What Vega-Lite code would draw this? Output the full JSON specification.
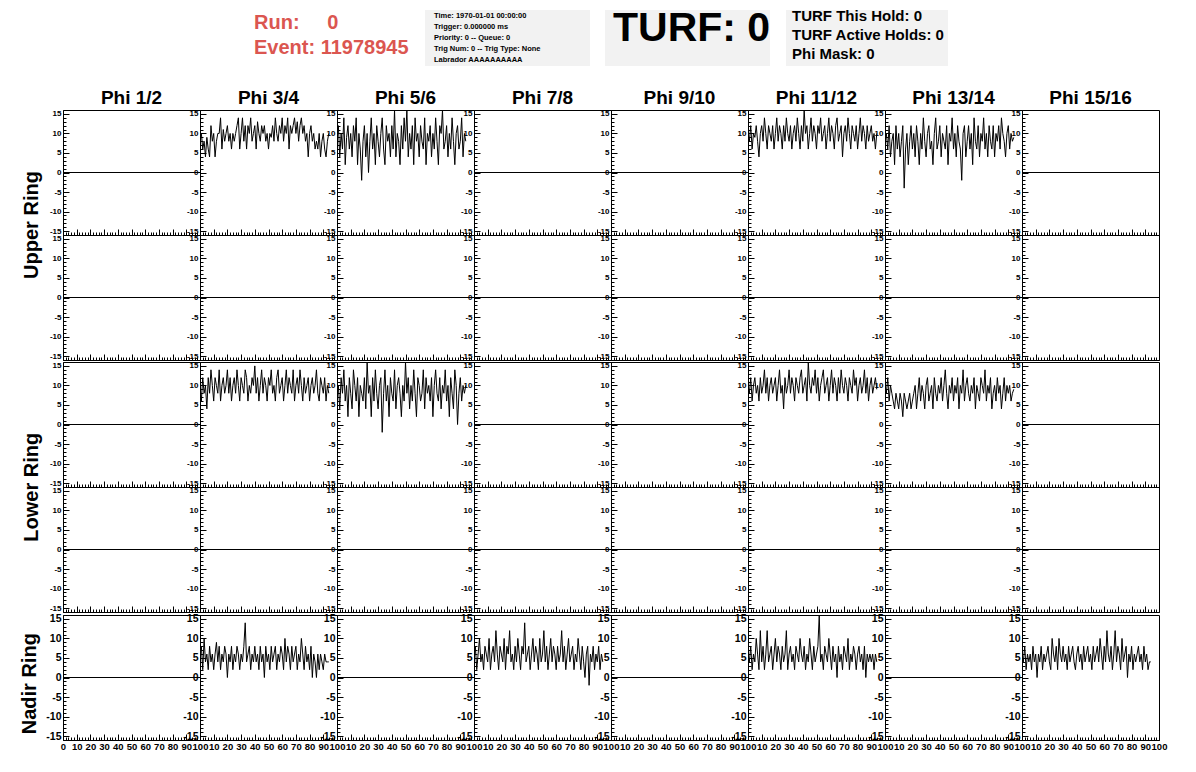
{
  "$schema": "https://vega.github.io/schema/vega-lite/v6.json",
  "padding": {"left": 20, "top": 8, "right": 0, "bottom": 0},
  "background": "white",
  "config": {
    "view": {"stroke": "black", "strokeWidth": 1},
    "font": "Liberation Sans",
    "axis": {"domainColor": "black", "tickColor": "black", "labelColor": "black", "grid": false, "domainWidth": 1, "tickWidth": 1}
  },
  "datasets": {
    "tr": [
      {"g": "U", "r": 1, "phi": "Phi 1/2", "x": [0, 100], "y": [0, 0]},
      {"g": "U", "r": 1, "phi": "Phi 3/4", "x": [0,1,2,3,4,5,6,7,8,9,10,11,12,13,14,15,16,17,18,19,20,21,22,23,24,25,26,27,28,29,30,31,32,33,34,35,36,37,38,39,40,41,42,43,44,45,46,47,48,49,50,51,52,53,54,55,56,57,58,59,60,61,62,63,64,65,66,67,68,69,70,71,72,73,74,75,76,77,78,79,80,81,82,83,84,85,86,87,88,89,90,91,92,93,94],
        "y": [10,10,6,8,4,9,6,4,12,8, 10,4,8,10,10,14,6,11,8,10, 12,8,10,6,10,8,10,12,14,6, 10,14,8,12,6,12,10,14,8,10, 12,6,13,10,8,12,10,12,8,10, 6,10,9,12,8,14,10,8,12,10, 14,8,12,10,14,6,12,10,12,14, 10,13,8,12,14,10,12,8,10,4, 10,12,8,10,6,8,6,10,4,8, 10,6,4,8,10]},
      {"g": "U", "r": 1, "phi": "Phi 5/6", "x": [0,1,2,3,4,5,6,7,8,9,10,11,12,13,14,15,16,17,18,19,20,21,22,23,24,25,26,27,28,29,30,31,32,33,34,35,36,37,38,39,40,41,42,43,44,45,46,47,48,49,50,51,52,53,54,55,56,57,58,59,60,61,62,63,64,65,66,67,68,69,70,71,72,73,74,75,76,77,78,79,80,81,82,83,84,85,86,87,88,89,90,91,92,93,94],
        "y": [8,12,4,10,6,14,2,9,12,6, 10,4,12,8,14,2,10,6,-2,8, 12,4,10,0,8,14,6,10,2,12, 8,4,10,14,6,2,12,8,10,4, 12,6,16,4,10,8,2,12,6,14, 8,16,4,10,6,12,2,14,8,10, 4,12,8,6,14,2,10,8,12,4, 10,6,14,8,2,12,10,16,6,8, 12,4,10,6,14,8,2,10,12,6, 8,14,4,10,8]},
      {"g": "U", "r": 1, "phi": "Phi 7/8", "x": [0, 100], "y": [0, 0]},
      {"g": "U", "r": 1, "phi": "Phi 9/10", "x": [0, 100], "y": [0, 0]},
      {"g": "U", "r": 1, "phi": "Phi 11/12", "x": [0,1,2,3,4,5,6,7,8,9,10,11,12,13,14,15,16,17,18,19,20,21,22,23,24,25,26,27,28,29,30,31,32,33,34,35,36,37,38,39,40,41,42,43,44,45,46,47,48,49,50,51,52,53,54,55,56,57,58,59,60,61,62,63,64,65,66,67,68,69,70,71,72,73,74,75,76,77,78,79,80,81,82,83,84,85,86,87,88,89,90,91,92,93,94],
        "y": [10,8,12,6,10,9,12,8,4,10, 12,8,14,10,6,12,10,8,12,6, 10,14,8,12,10,6,12,8,14,10, 8,12,6,10,12,8,14,10,6,12, 8,16,10,12,6,10,14,8,12,10, 6,12,10,14,8,10,12,6,10,14, 8,12,10,6,12,14,8,10,12,4, 10,12,8,14,10,6,12,10,8,12, 6,10,14,8,12,10,6,12,8,10, 12,8,10,6,10]},
      {"g": "U", "r": 1, "phi": "Phi 13/14", "x": [0,1,2,3,4,5,6,7,8,9,10,11,12,13,14,15,16,17,18,19,20,21,22,23,24,25,26,27,28,29,30,31,32,33,34,35,36,37,38,39,40,41,42,43,44,45,46,47,48,49,50,51,52,53,54,55,56,57,58,59,60,61,62,63,64,65,66,67,68,69,70,71,72,73,74,75,76,77,78,79,80,81,82,83,84,85,86,87,88,89,90,91,92,93,94],
        "y": [8,10,6,12,4,8,10,2,12,6, 10,4,8,12,-4,6,10,2,8,12, 6,10,4,12,8,2,10,6,14,8, 4,10,12,6,8,2,10,14,6,8, 12,4,10,8,6,12,2,10,8,14, 6,10,4,12,8,6,-2,10,12,4, 8,12,6,10,2,14,8,6,12,4, 10,8,14,6,10,4,12,8,6,12, 4,10,8,12,6,14,10,8,4,10, 12,6,10,8,9]},
      {"g": "U", "r": 1, "phi": "Phi 15/16", "x": [0, 100], "y": [0, 0]},
      {"g": "U", "r": 2, "phi": "Phi 1/2", "x": [0, 100], "y": [0, 0]},
      {"g": "U", "r": 2, "phi": "Phi 3/4", "x": [0, 100], "y": [0, 0]},
      {"g": "U", "r": 2, "phi": "Phi 5/6", "x": [0, 100], "y": [0, 0]},
      {"g": "U", "r": 2, "phi": "Phi 7/8", "x": [0, 100], "y": [0, 0]},
      {"g": "U", "r": 2, "phi": "Phi 9/10", "x": [0, 100], "y": [0, 0]},
      {"g": "U", "r": 2, "phi": "Phi 11/12", "x": [0, 100], "y": [0, 0]},
      {"g": "U", "r": 2, "phi": "Phi 13/14", "x": [0, 100], "y": [0, 0]},
      {"g": "U", "r": 2, "phi": "Phi 15/16", "x": [0, 100], "y": [0, 0]},
      {"g": "L", "r": 1, "phi": "Phi 1/2", "x": [0, 100], "y": [0, 0]},
      {"g": "L", "r": 1, "phi": "Phi 3/4", "x": [0,1,2,3,4,5,6,7,8,9,10,11,12,13,14,15,16,17,18,19,20,21,22,23,24,25,26,27,28,29,30,31,32,33,34,35,36,37,38,39,40,41,42,43,44,45,46,47,48,49,50,51,52,53,54,55,56,57,58,59,60,61,62,63,64,65,66,67,68,69,70,71,72,73,74,75,76,77,78,79,80,81,82,83,84,85,86,87,88,89,90,91,92,93,94],
        "y": [10,6,12,8,10,4,12,8,14,10, 6,12,10,8,14,6,10,12,8,10, 14,8,12,6,10,12,8,14,10,6, 12,10,8,14,12,6,10,8,12,10, 15,8,12,6,10,14,8,12,10,6, 12,10,14,8,10,6,12,14,8,10, 12,6,10,14,8,12,10,8,14,6, 10,12,8,14,10,6,12,8,10,12, 6,10,12,8,10,14,8,6,12,10, 8,12,6,10,8]},
      {"g": "L", "r": 1, "phi": "Phi 5/6", "x": [0,1,2,3,4,5,6,7,8,9,10,11,12,13,14,15,16,17,18,19,20,21,22,23,24,25,26,27,28,29,30,31,32,33,34,35,36,37,38,39,40,41,42,43,44,45,46,47,48,49,50,51,52,53,54,55,56,57,58,59,60,61,62,63,64,65,66,67,68,69,70,71,72,73,74,75,76,77,78,79,80,81,82,83,84,85,86,87,88,89,90,91,92,93,94],
        "y": [6,10,4,12,8,14,6,10,2,12, 8,4,14,10,6,12,2,10,8,6, 12,4,16,8,10,2,12,6,14,8, 4,10,12,-2,8,14,6,10,2,12, 8,6,14,4,10,12,8,2,10,6, 16,8,12,4,10,6,14,8,2,12, 10,6,8,14,4,12,8,10,6,12, 2,10,14,8,6,12,4,10,8,14, 6,10,2,12,8,4,14,10,0,8, 12,6,10,8,10]},
      {"g": "L", "r": 1, "phi": "Phi 7/8", "x": [0, 100], "y": [0, 0]},
      {"g": "L", "r": 1, "phi": "Phi 9/10", "x": [0, 100], "y": [0, 0]},
      {"g": "L", "r": 1, "phi": "Phi 11/12", "x": [0,1,2,3,4,5,6,7,8,9,10,11,12,13,14,15,16,17,18,19,20,21,22,23,24,25,26,27,28,29,30,31,32,33,34,35,36,37,38,39,40,41,42,43,44,45,46,47,48,49,50,51,52,53,54,55,56,57,58,59,60,61,62,63,64,65,66,67,68,69,70,71,72,73,74,75,76,77,78,79,80,81,82,83,84,85,86,87,88,89,90,91,92,93,94],
        "y": [10,8,12,6,10,12,8,10,6,12, 8,10,14,8,12,6,10,12,8,10, 12,6,10,14,8,10,4,12,8,10, 14,8,12,10,6,12,10,8,12,14, 8,10,12,6,16,10,8,12,10,14, 8,12,6,10,12,14,8,10,12,6, 10,14,8,12,10,6,12,8,14,10, 8,12,10,6,12,10,8,14,10,12, 6,10,12,8,10,14,8,12,6,10, 12,8,10,12,9]},
      {"g": "L", "r": 1, "phi": "Phi 13/14", "x": [0,1,2,3,4,5,6,7,8,9,10,11,12,13,14,15,16,17,18,19,20,21,22,23,24,25,26,27,28,29,30,31,32,33,34,35,36,37,38,39,40,41,42,43,44,45,46,47,48,49,50,51,52,53,54,55,56,57,58,59,60,61,62,63,64,65,66,67,68,69,70,71,72,73,74,75,76,77,78,79,80,81,82,83,84,85,86,87,88,89,90,91,92,93,94],
        "y": [10,8,12,6,10,8,6,4,8,6, 4,8,6,2,8,6,4,6,8,4, 6,8,10,4,8,12,6,10,8,4, 10,12,6,8,10,4,12,8,6,10, 8,12,6,10,14,8,4,10,8,12, 6,10,8,12,4,10,8,14,6,10, 12,8,6,10,8,12,4,10,8,6, 12,10,8,14,6,10,8,12,4,8, 10,6,12,8,10,4,8,12,6,10, 8,10,6,8,9]},
      {"g": "L", "r": 1, "phi": "Phi 15/16", "x": [0, 100], "y": [0, 0]},
      {"g": "L", "r": 2, "phi": "Phi 1/2", "x": [0, 100], "y": [0, 0]},
      {"g": "L", "r": 2, "phi": "Phi 3/4", "x": [0, 100], "y": [0, 0]},
      {"g": "L", "r": 2, "phi": "Phi 5/6", "x": [0, 100], "y": [0, 0]},
      {"g": "L", "r": 2, "phi": "Phi 7/8", "x": [0, 100], "y": [0, 0]},
      {"g": "L", "r": 2, "phi": "Phi 9/10", "x": [0, 100], "y": [0, 0]},
      {"g": "L", "r": 2, "phi": "Phi 11/12", "x": [0, 100], "y": [0, 0]},
      {"g": "L", "r": 2, "phi": "Phi 13/14", "x": [0, 100], "y": [0, 0]},
      {"g": "L", "r": 2, "phi": "Phi 15/16", "x": [0, 100], "y": [0, 0]},
      {"g": "N", "r": 1, "phi": "Phi 1/2", "x": [0, 100], "y": [0, 0]},
      {"g": "N", "r": 1, "phi": "Phi 3/4", "x": [0,1,2,3,4,5,6,7,8,9,10,11,12,13,14,15,16,17,18,19,20,21,22,23,24,25,26,27,28,29,30,31,32,33,34,35,36,37,38,39,40,41,42,43,44,45,46,47,48,49,50,51,52,53,54,55,56,57,58,59,60,61,62,63,64,65,66,67,68,69,70,71,72,73,74,75,76,77,78,79,80,81,82,83,84,85,86,87,88,89,90,91,92,93,94],
        "y": [6,8,2,10,4,6,2,8,4,6, 2,6,9,4,8,2,6,4,8,6, 0,6,4,8,2,6,4,8,6,2, 6,4,8,14,4,6,8,2,6,4, 8,4,6,2,8,4,6,0,8,4, 6,2,8,4,6,8,2,6,4,8, 6,2,10,4,8,6,2,8,4,6, 8,2,6,4,10,6,2,8,4,6, 2,8,0,6,4,0,6,2,6,4, 2,6,4,4,4]},
      {"g": "N", "r": 1, "phi": "Phi 5/6", "x": [0, 100], "y": [0, 0]},
      {"g": "N", "r": 1, "phi": "Phi 7/8", "x": [0,1,2,3,4,5,6,7,8,9,10,11,12,13,14,15,16,17,18,19,20,21,22,23,24,25,26,27,28,29,30,31,32,33,34,35,36,37,38,39,40,41,42,43,44,45,46,47,48,49,50,51,52,53,54,55,56,57,58,59,60,61,62,63,64,65,66,67,68,69,70,71,72,73,74,75,76,77,78,79,80,81,82,83,84,85,86,87,88,89,90,91,92,93,94],
        "y": [4,8,2,6,10,4,6,2,8,6, 4,10,2,6,8,4,12,6,2,8, 6,4,10,2,8,6,12,4,6,2, 8,4,10,6,2,8,6,14,4,6, 8,2,6,10,4,8,6,2,10,4, 6,12,4,8,2,6,10,4,8,6, 2,8,4,6,12,4,8,2,6,10, 4,6,8,2,6,4,10,6,2,8, 4,0,6,8,-2,6,4,8,2,6, 4,8,2,6,4]},
      {"g": "N", "r": 1, "phi": "Phi 9/10", "x": [0, 100], "y": [0, 0]},
      {"g": "N", "r": 1, "phi": "Phi 11/12", "x": [0,1,2,3,4,5,6,7,8,9,10,11,12,13,14,15,16,17,18,19,20,21,22,23,24,25,26,27,28,29,30,31,32,33,34,35,36,37,38,39,40,41,42,43,44,45,46,47,48,49,50,51,52,53,54,55,56,57,58,59,60,61,62,63,64,65,66,67,68,69,70,71,72,73,74,75,76,77,78,79,80,81,82,83,84,85,86,87,88,89,90,91,92,93,94],
        "y": [6,4,8,2,6,4,10,6,2,12, 4,8,2,6,12,4,6,8,2,6, 10,4,8,6,2,8,4,6,12,2, 6,8,4,6,2,8,6,4,10,6, 4,8,2,6,4,10,6,2,8,4, 6,8,16,4,6,2,8,6,4,10, 6,2,8,4,6,0,8,4,6,2, 8,6,4,10,2,6,4,8,6,2, 6,8,4,6,2,8,0,6,4,6, 4,6,2,6,4]},
      {"g": "N", "r": 1, "phi": "Phi 13/14", "x": [0, 100], "y": [0, 0]},
      {"g": "N", "r": 1, "phi": "Phi 15/16", "x": [0,1,2,3,4,5,6,7,8,9,10,11,12,13,14,15,16,17,18,19,20,21,22,23,24,25,26,27,28,29,30,31,32,33,34,35,36,37,38,39,40,41,42,43,44,45,46,47,48,49,50,51,52,53,54,55,56,57,58,59,60,61,62,63,64,65,66,67,68,69,70,71,72,73,74,75,76,77,78,79,80,81,82,83,84,85,86,87,88,89,90,91,92,93,94],
        "y": [6,4,8,2,6,4,6,2,8,4, 6,0,6,4,8,2,6,4,6,8, 4,2,10,6,4,8,2,10,6,4, 8,4,6,2,8,4,6,8,4,2, 6,8,4,6,2,8,4,6,8,4, 6,2,8,4,6,8,4,10,6,2, 8,4,12,6,4,8,2,6,12,4, 8,6,2,10,4,6,8,0,6,4, 8,2,6,4,6,8,4,6,2,8, 4,6,2,4,4]}
    ]
  },
  "spacing": 23,
  "vconcat": [
    {
      "spacing": 15,
      "hconcat": [
        {
          "width": 176, "height": 50,
          "view": {"stroke": null},
          "data": {"values": [{"t": ""}]},
          "mark": {"type": "text"},
          "encoding": {"text": {"field": "t"}}
        },
        {
          "width": 156, "height": 50,
          "view": {"stroke": null},
          "data": {"values": [{"i": 1, "t": "Run:\u00a0\u00a0\u00a0\u00a0\u00a00"}, {"i": 2, "t": "Event: 11978945"}]},
          "mark": {"type": "text", "align": "left", "baseline": "middle", "fontSize": 20, "fontWeight": "bold", "color": "#db5650", "font": "Liberation Sans"},
          "encoding": {
            "y": {"field": "i", "type": "ordinal", "axis": null},
            "x": {"datum": 0, "type": "quantitative", "scale": {"domain": [0, 1]}, "axis": null},
            "text": {"field": "t"}
          }
        },
        {
          "width": 165, "height": 56,
          "view": {"stroke": null, "fill": "#f2f2f2"},
          "data": {"values": [
            {"i": 1, "t": "Time: 1970-01-01 00:00:00"},
            {"i": 2, "t": "Trigger: 0.000000 ms"},
            {"i": 3, "t": "Priority: 0 -- Queue: 0"},
            {"i": 4, "t": "Trig Num: 0 -- Trig Type: None"},
            {"i": 5, "t": "Labrador AAAAAAAAAA"}
          ]},
          "mark": {"type": "text", "align": "left", "baseline": "middle", "fontSize": 7.5, "fontWeight": "bold", "color": "black", "dx": 9},
          "encoding": {
            "y": {"field": "i", "type": "ordinal", "axis": null, "scale": {"padding": 0.6}},
            "x": {"datum": 0, "type": "quantitative", "scale": {"domain": [0, 1]}, "axis": null},
            "text": {"field": "t"}
          }
        },
        {
          "width": 165, "height": 56,
          "view": {"stroke": null, "fill": "#f2f2f2"},
          "data": {"values": [{"t": "TURF: 0"}]},
          "mark": {"type": "text", "align": "left", "baseline": "alphabetic", "fontSize": 41, "fontWeight": "bold", "color": "black", "dx": 8, "dy": -25},
          "encoding": {
            "y": {"datum": 0, "type": "quantitative", "scale": {"domain": [0, 1]}, "axis": null},
            "x": {"datum": 0, "type": "quantitative", "scale": {"domain": [0, 1]}, "axis": null},
            "text": {"field": "t"}
          }
        },
        {
          "width": 162, "height": 56,
          "view": {"stroke": null, "fill": "#f2f2f2"},
          "data": {"values": [
            {"i": 1, "t": "TURF This Hold: 0"},
            {"i": 2, "t": "TURF Active Holds: 0"},
            {"i": 3, "t": "Phi Mask: 0"}
          ]},
          "mark": {"type": "text", "align": "left", "baseline": "middle", "fontSize": 15, "fontWeight": "bold", "color": "black", "dx": 6, "dy": -3},
          "encoding": {
            "y": {"field": "i", "type": "ordinal", "axis": null, "scale": {"padding": 0.5}},
            "x": {"datum": 0, "type": "quantitative", "scale": {"domain": [0, 1]}, "axis": null},
            "text": {"field": "t"}
          }
        }
      ]
    },
    {
      "spacing": 0,
      "vconcat": [
        {
          "data": {"name": "tr"},
          "transform": [{"filter": "datum.g == 'U'"}, {"flatten": ["x", "y"]}],
          "title": {"text": "Upper Ring", "orient": "left", "anchor": "middle", "fontSize": 20, "fontWeight": "bold", "font": "Liberation Sans", "color": "black", "offset": 7},
          "facet": {
            "row": {"field": "r", "type": "ordinal", "header": {"labels": false, "title": null}},
            "column": {"field": "phi", "type": "nominal", "sort": ["Phi 1/2", "Phi 3/4", "Phi 5/6", "Phi 7/8", "Phi 9/10", "Phi 11/12", "Phi 13/14", "Phi 15/16"],
              "header": {"title": null, "labelFontSize": 19, "labelFontWeight": "bold", "labelFont": "Liberation Sans", "labelColor": "black", "labelPadding": 2}}
          },
          "spacing": {"row": 0, "column": 0},
          "bounds": "flush",
          "resolve": {"axis": {"x": "independent", "y": "independent"}},
          "spec": {
            "width": 137, "height": 125,
            "mark": {"type": "line", "color": "black", "strokeWidth": 1, "clip": true},
            "encoding": {
              "x": {"field": "x", "type": "quantitative", "scale": {"domain": [0, 100], "nice": false, "zero": false},
                "axis": {"title": null, "values": [0,2,4,6,8,10,12,14,16,18,20,22,24,26,28,30,32,34,36,38,40,42,44,46,48,50,52,54,56,58,60,62,64,66,68,70,72,74,76,78,80,82,84,86,88,90,92,94,96,98,100],
                  "labels": false, "tickSize": {"condition": {"test": "datum.value % 10 === 0", "value": -6}, "value": -3}}},
              "y": {"field": "y", "type": "quantitative", "scale": {"domain": [-16, 16], "nice": false, "zero": false},
                "axis": {"title": null, "values": [-15,-14,-13,-12,-11,-10,-9,-8,-7,-6,-5,-4,-3,-2,-1,0,1,2,3,4,5,6,7,8,9,10,11,12,13,14,15],
                  "labelExpr": "datum.value % 5 === 0 ? '' + datum.value : ''",
                  "tickSize": {"condition": {"test": "datum.value % 5 === 0", "value": -6}, "value": -3},
                  "labelFontSize": 8, "labelFontWeight": "bold", "labelFont": "Liberation Sans", "labelPadding": 8, "labelOverlap": false, "labelBound": false, "labelFlush": false}}
            }
          }
        },
        {
          "data": {"name": "tr"},
          "transform": [{"filter": "datum.g == 'L'"}, {"flatten": ["x", "y"]}],
          "title": {"text": "Lower Ring", "orient": "left", "anchor": "middle", "fontSize": 20, "fontWeight": "bold", "font": "Liberation Sans", "color": "black", "offset": 7},
          "facet": {
            "row": {"field": "r", "type": "ordinal", "header": {"labels": false, "title": null}},
            "column": {"field": "phi", "type": "nominal", "sort": ["Phi 1/2", "Phi 3/4", "Phi 5/6", "Phi 7/8", "Phi 9/10", "Phi 11/12", "Phi 13/14", "Phi 15/16"],
              "header": {"title": null, "labels": false}}
          },
          "spacing": {"row": 0, "column": 0},
          "bounds": "flush",
          "resolve": {"axis": {"x": "independent", "y": "independent"}},
          "spec": {
            "width": 137, "height": 125,
            "mark": {"type": "line", "color": "black", "strokeWidth": 1, "clip": true},
            "encoding": {
              "x": {"field": "x", "type": "quantitative", "scale": {"domain": [0, 100], "nice": false, "zero": false},
                "axis": {"title": null, "values": [0,2,4,6,8,10,12,14,16,18,20,22,24,26,28,30,32,34,36,38,40,42,44,46,48,50,52,54,56,58,60,62,64,66,68,70,72,74,76,78,80,82,84,86,88,90,92,94,96,98,100],
                  "labels": false, "tickSize": {"condition": {"test": "datum.value % 10 === 0", "value": -6}, "value": -3}}},
              "y": {"field": "y", "type": "quantitative", "scale": {"domain": [-16, 16], "nice": false, "zero": false},
                "axis": {"title": null, "values": [-15,-14,-13,-12,-11,-10,-9,-8,-7,-6,-5,-4,-3,-2,-1,0,1,2,3,4,5,6,7,8,9,10,11,12,13,14,15],
                  "labelExpr": "datum.value % 5 === 0 ? '' + datum.value : ''",
                  "tickSize": {"condition": {"test": "datum.value % 5 === 0", "value": -6}, "value": -3},
                  "labelFontSize": 8, "labelFontWeight": "bold", "labelFont": "Liberation Sans", "labelPadding": 8, "labelOverlap": false, "labelBound": false, "labelFlush": false}}
            }
          }
        },
        {
          "data": {"name": "tr"},
          "transform": [{"filter": "datum.g == 'N'"}, {"flatten": ["x", "y"]}],
          "title": {"text": "Nadir Ring", "orient": "left", "anchor": "middle", "fontSize": 20, "fontWeight": "bold", "font": "Liberation Sans", "color": "black", "offset": 5},
          "spacing": 0,
          "bounds": "flush",
          "hconcat": [
            {
              "transform": [{"filter": "datum.phi == 'Phi 1/2'"}],
              "width": 137, "height": 125,
              "mark": {"type": "line", "color": "black", "strokeWidth": 1, "clip": true},
              "encoding": {
                "x": {"field": "x", "type": "quantitative", "scale": {"domain": [0, 100], "nice": false, "zero": false},
                  "axis": {"title": null, "values": [0,2,4,6,8,10,12,14,16,18,20,22,24,26,28,30,32,34,36,38,40,42,44,46,48,50,52,54,56,58,60,62,64,66,68,70,72,74,76,78,80,82,84,86,88,90,92,94,96,98,100],
                    "labelExpr": "datum.value % 10 === 0 ? '' + datum.value : ''",
                    "tickSize": {"condition": {"test": "datum.value % 10 === 0", "value": -6}, "value": -3},
                    "labelFontSize": 9.5, "labelFontWeight": "bold", "labelFont": "Liberation Sans", "labelPadding": 7, "labelOverlap": false, "labelBound": false, "labelFlush": false}},
                "y": {"field": "y", "type": "quantitative", "scale": {"domain": [-16, 16], "nice": false, "zero": false},
                  "axis": {"title": null, "values": [-15,-14,-13,-12,-11,-10,-9,-8,-7,-6,-5,-4,-3,-2,-1,0,1,2,3,4,5,6,7,8,9,10,11,12,13,14,15],
                    "labelExpr": "datum.value % 5 === 0 ? '' + datum.value : ''",
                    "tickSize": {"condition": {"test": "datum.value % 5 === 0", "value": -6}, "value": -3},
                    "labelFontSize": 10.5, "labelFontWeight": "bold", "labelFont": "Liberation Sans", "labelPadding": 8, "labelOverlap": false, "labelBound": false, "labelFlush": false}}
              }
            },
            {
              "transform": [{"filter": "datum.phi != 'Phi 1/2'"}],
              "facet": {
                "column": {"field": "phi", "type": "nominal", "sort": ["Phi 3/4", "Phi 5/6", "Phi 7/8", "Phi 9/10", "Phi 11/12", "Phi 13/14", "Phi 15/16"],
                  "header": {"title": null, "labels": false}}
              },
              "spacing": {"column": 0},
              "bounds": "flush",
              "resolve": {"axis": {"x": "independent", "y": "independent"}},
              "spec": {
                "width": 137, "height": 125,
                "mark": {"type": "line", "color": "black", "strokeWidth": 1, "clip": true},
                "encoding": {
                  "x": {"field": "x", "type": "quantitative", "scale": {"domain": [0, 100], "nice": false, "zero": false},
                    "axis": {"title": null, "values": [0,2,4,6,8,10,12,14,16,18,20,22,24,26,28,30,32,34,36,38,40,42,44,46,48,50,52,54,56,58,60,62,64,66,68,70,72,74,76,78,80,82,84,86,88,90,92,94,96,98,100],
                      "labelExpr": "datum.value % 10 === 0 && datum.value > 0 ? '' + datum.value : ''",
                      "tickSize": {"condition": {"test": "datum.value % 10 === 0", "value": -6}, "value": -3},
                      "labelFontSize": 9.5, "labelFontWeight": "bold", "labelFont": "Liberation Sans", "labelPadding": 7, "labelOverlap": false, "labelBound": false, "labelFlush": false}},
                  "y": {"field": "y", "type": "quantitative", "scale": {"domain": [-16, 16], "nice": false, "zero": false},
                    "axis": {"title": null, "values": [-15,-14,-13,-12,-11,-10,-9,-8,-7,-6,-5,-4,-3,-2,-1,0,1,2,3,4,5,6,7,8,9,10,11,12,13,14,15],
                      "labelExpr": "datum.value % 5 === 0 ? '' + datum.value : ''",
                      "tickSize": {"condition": {"test": "datum.value % 5 === 0", "value": -6}, "value": -3},
                      "labelFontSize": 10.5, "labelFontWeight": "bold", "labelFont": "Liberation Sans", "labelPadding": 8, "labelOverlap": false, "labelBound": false, "labelFlush": false}}
                }
              }
            }
          ]
        }
      ]
    }
  ]
}
